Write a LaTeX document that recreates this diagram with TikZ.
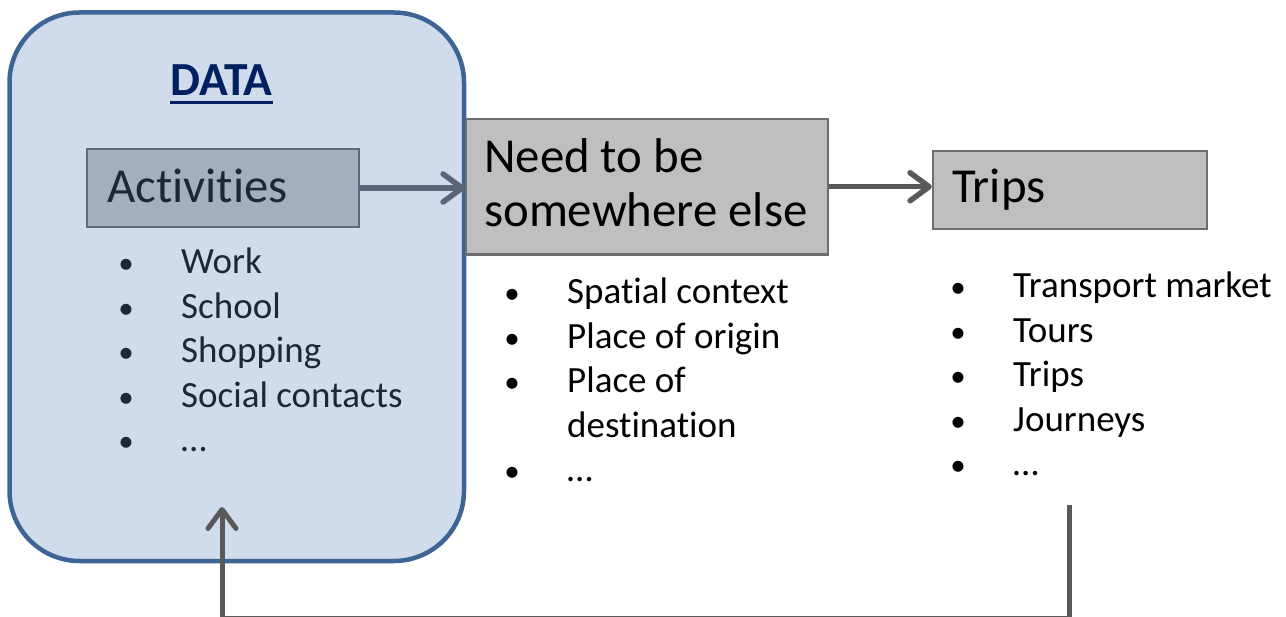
\documentclass[tikz,border=0pt]{standalone}
\usepackage{fontspec}
\setmainfont{Carlito}[RawFeature={-liga;-clig;-dlig}]
\usetikzlibrary{arrows.meta}

\definecolor{databg}{HTML}{D0DCEC}
\definecolor{databorder}{HTML}{3C6494}
\definecolor{titleblue}{HTML}{002060}
\definecolor{datatext}{HTML}{1C2738}
\definecolor{actfill}{HTML}{A3AFBF}
\definecolor{actborder}{HTML}{5E6A7A}
\definecolor{grayfill}{HTML}{BFBFBF}
\definecolor{grayborder}{HTML}{6E6E6E}
\definecolor{bluearrow}{HTML}{5A6577}
\definecolor{grayarrow}{HTML}{595959}

% underlined heading text
\newcommand\ultext[1]{\setbox0\hbox{#1}\rlap{\rule[-8pt]{\wd0}{2.6pt}}\box0}
% bullet hanging 55pt left of the item text
\newcommand\bul{\llap{\makebox[110pt]{\fontsize{31}{31}\selectfont •}}}

\tikzset{
  databox/.style={draw=databorder, fill=databg, line width=4.5pt, rounded corners=70pt, inner sep=0pt},
  actbox/.style={draw=actborder, fill=actfill, line width=2pt, inner sep=0pt},
  graybox/.style={draw=grayborder, fill=grayfill, line width=2.3pt, inner sep=0pt},
  biglbl/.style={anchor=base west, inner sep=0pt, font=\fontsize{48.8}{54}\selectfont},
  item/.style={anchor=base west, inner sep=0pt, font=\fontsize{37}{42}\selectfont},
  tipstyle/.style={-{Straight Barb[length=19pt,width=28pt,line cap=round,line join=round]}},
  flow/.style={line width=5.5pt, tipstyle},
}

\begin{document}
\begin{tikzpicture}[x=1pt,y=-1pt]
\useasboundingbox (0,0) rectangle (1286,617);

% data frame
\node[databox, minimum width=454.5pt, minimum height=548.5pt] (data) at (236.75,286.75) {};
\node[anchor=base, inner sep=0pt, font=\bfseries\fontsize{47.5}{52}\selectfont, text=titleblue] (title) at (221.5,96) {\ultext{DATA}};

% boxes
\node[actbox, minimum width=272pt, minimum height=78pt] (act) at (222.5,188) {};
\node[biglbl, text=datatext] (actlbl) at (107,203) {Activities};

\node[graybox, minimum width=362pt, minimum height=135.5pt] (need) at (647,186.75) {};
\node[biglbl] (needlbl1) at (484,173) {Need to be};
\node[biglbl] (needlbl2) at (484,227) {somewhere else};

\node[graybox, minimum width=274pt, minimum height=78pt] (trips) at (1070,190) {};
\node[biglbl] (tripslbl) at (952,203) {Trips};

% bullet lists
\foreach \t [count=\i] in {Work,School,Shopping,Social contacts,…}
  \node[item, text=datatext] (act\i) at (181,{274+44.5*(\i-1)}) {\bul\t};

\foreach \t/\b [count=\i] in {Spatial context/1,Place of origin/1,Place of/1,destination/0,…/1}
  \node[item] (need\i) at (567,{304+44.5*(\i-1)}) {\ifnum\b=1 \bul\fi\t};

\foreach \t [count=\i] in {Transport market,Tours,Trips,Journeys,…}
  \node[item] (trips\i) at (1013,{298+44.5*(\i-1)}) {\bul\t};

% flow arrows
\draw[flow, bluearrow] (act.east) -- (act.east -| need.west);
\draw[flow, grayarrow] (need.east) -- (need.east -| trips.west);

% feedback loop back to the data
\coordinate (fbstart) at (1069,505);
\coordinate (fbend) at (222,507);
\coordinate (fbbase) at (0,618.5);
\draw[line width=5pt, grayarrow, tipstyle] (fbstart) -- (fbstart |- fbbase) -- (fbend |- fbbase) -- (fbend);
\end{tikzpicture}
\end{document}
